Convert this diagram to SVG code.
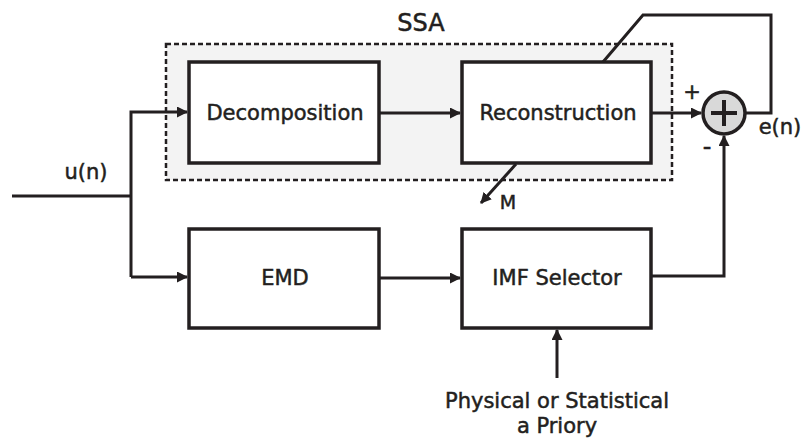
<svg xmlns="http://www.w3.org/2000/svg" width="803" height="438" viewBox="0 0 803 438">
<defs>
<style>
.box{fill:#fff;stroke:#231f20;stroke-width:3.5}
.ln{fill:none;stroke:#231f20;stroke-width:3}
.t{font-family:"DejaVu Sans",Verdana,sans-serif;fill:#231f20;stroke:#231f20;stroke-width:0.5;text-anchor:middle}
.lbl{font-size:21px}
</style>
<marker id="ah" markerWidth="11" markerHeight="11" refX="10" refY="5.5" orient="auto" markerUnits="userSpaceOnUse"><path d="M0,0 L11,5.5 L0,11 z" fill="#231f20"/></marker>
</defs>
<rect width="803" height="438" fill="#fff"/>
<g id="ssa">
<rect x="166" y="44" width="506" height="136" fill="#f3f3f3" stroke="#231f20" stroke-width="2.5" stroke-dasharray="5,3"/>
<text class="t" x="421" y="31" font-size="24">SSA</text>
</g>
<g id="decomposition"><rect class="box" x="189" y="62" width="190" height="101"/><text class="t lbl" x="285" y="120">Decomposition</text></g>
<g id="reconstruction"><rect class="box" x="462" y="62" width="189" height="101"/><text class="t lbl" x="558" y="120">Reconstruction</text></g>
<g id="emd"><rect class="box" x="189" y="229" width="190" height="99"/><text class="t lbl" x="285" y="285">EMD</text></g>
<g id="imf"><rect class="box" x="462" y="229" width="189" height="99"/><text class="t lbl" x="557" y="285">IMF Selector</text></g>
<g id="sum"><circle cx="724" cy="113" r="21" fill="#d9d9d9" stroke="#231f20" stroke-width="3.5"/><path d="M711,113 H737 M724,100 V126" stroke="#231f20" stroke-width="4"/></g>
<g id="connectors">
<path class="ln" d="M12,196 H131"/>
<path class="ln" d="M131,277 V112 H187" marker-end="url(#ah)"/>
<path class="ln" d="M131,277 H187" marker-end="url(#ah)"/>
<path class="ln" d="M379,113 H460" marker-end="url(#ah)"/>
<path class="ln" d="M379,278 H460" marker-end="url(#ah)"/>
<path class="ln" d="M651,113 H701" marker-end="url(#ah)"/>
<path class="ln" d="M651,276 H724 V136" marker-end="url(#ah)"/>
<path class="ln" d="M557,378 V330" marker-end="url(#ah)"/>
<path class="ln" d="M745,113 H771 V15 H643 L603,62"/>
<path class="ln" d="M516,164 L481,203" marker-end="url(#ah)"/>
</g>
<g id="labels">
<text class="t" x="86" y="179" font-size="21">u(n)</text>
<text class="t" x="692" y="99" font-size="21">+</text>
<text class="t" x="707" y="155" font-size="24">-</text>
<text class="t" x="780" y="134" font-size="21">e(n)</text>
<text class="t" x="508" y="209" font-size="19">M</text>
<text class="t" x="557" y="408" font-size="21">Physical or Statistical</text>
<text class="t" x="557" y="433" font-size="21">a Priory</text>
</g>
</svg>
